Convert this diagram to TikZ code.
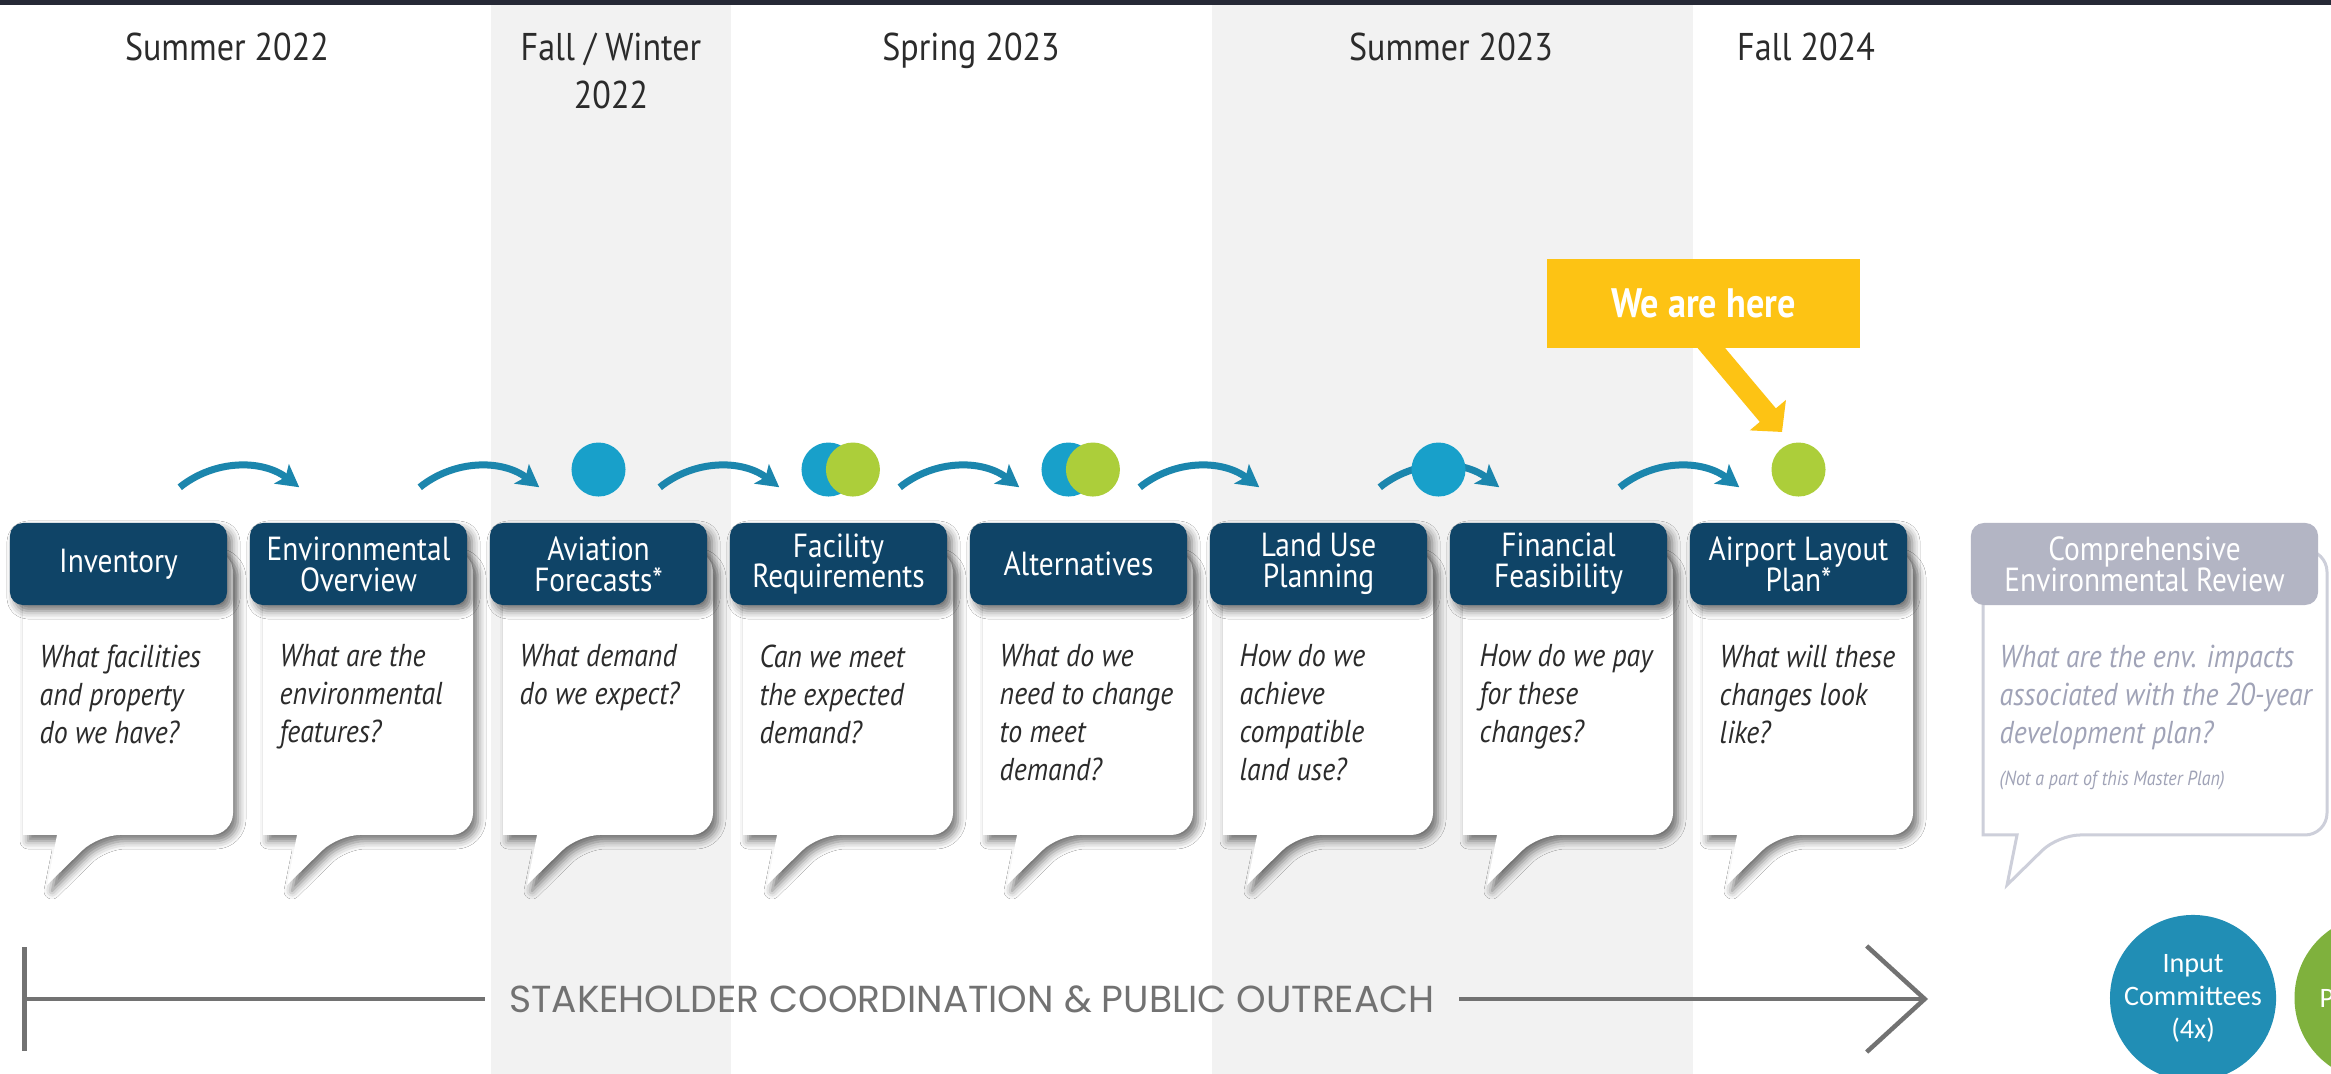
\documentclass[tikz,border=0pt]{standalone}
\usepackage{fontspec}
\setmainfont{PT Sans}[FakeStretch=0.88]
\newfontfamily\carlito{Carlito}
\newfontfamily\poppins{Poppins}
\usepackage{tikz}
\usetikzlibrary{positioning, calc, shadows.blur, arrows.meta}
\definecolor{PlanBar}{HTML}{262936}
\definecolor{PlanBand}{HTML}{F2F2F2}
\definecolor{PlanNavy}{HTML}{0F4467}
\definecolor{PlanTeal}{HTML}{1B86AD}
\definecolor{PlanBlue}{HTML}{18A0CA}
\definecolor{PlanLime}{HTML}{ACCE3A}
\definecolor{PlanGold}{HTML}{FDC314}
\definecolor{PlanGray}{HTML}{727272}
\definecolor{PlanInk}{HTML}{2B2B2B}
\definecolor{PlanMist}{HTML}{B3B5C4}
\definecolor{PlanHaze}{HTML}{A0A3B7}
\definecolor{PlanRule}{HTML}{CDCFDA}
\definecolor{CommBlue}{HTML}{218EB5}
\definecolor{CommGreen}{HTML}{7FB13D}

\begin{document}
\begin{tikzpicture}[x=0.01cm, y=-0.01cm,
    softshade/.style={blur shadow={shadow xshift=0.05cm, shadow yshift=-0.06cm,
      shadow blur radius=0.08cm, shadow opacity=55}},
    hdrbox/.style={fill=PlanNavy, rounded corners=0.13cm, minimum width=2.17cm, minimum height=0.82cm,
      inner sep=0, text=white, align=center, font=\fontsize{9.5}{8.8}\selectfont, softshade},
    reviewhdr/.style={fill=PlanMist, rounded corners=0.13cm, minimum width=3.47cm, minimum height=0.82cm,
      inner sep=0, text=white, align=center, font=\fontsize{9.5}{8.8}\selectfont},
    question/.style={anchor=north west, inner sep=0, align=left, text=PlanInk,
      font=\itshape\fontsize{9}{10.8}\selectfont},
    season/.style={anchor=north, inner sep=0, align=center, text=PlanInk,
      font=\fontsize{11}{13.7}\selectfont},
    dot/.style={circle, minimum size=0.54cm, inner sep=0},
    stepflow/.style={PlanTeal, line width=0.07cm, -{Stealth[length=0.22cm, width=0.24cm, inset=0.05cm]}},
    outline/.style={PlanGray, line width=0.045cm},
    committee/.style={circle, minimum size=1.66cm, inner sep=0, text=white, align=center,
      font=\carlito\fontsize{8}{9.4}\selectfont}]
  \useasboundingbox (0,0) rectangle (2331,1074);
  \fill[white] (0,0) rectangle (2331,1074);
  \fill[PlanBand] (491,5) rectangle (731,1074);
  \fill[PlanBand] (1212,5) rectangle (1693,1074);
  \fill[PlanBar] (0,0) rectangle (2331,5);

  \node[season] (sum22) at (227,32) {Summer 2022};
  \node[season] (fall22) at (611,32) {Fall / Winter\\2022};
  \node[season] (spr23) at (971,32) {Spring 2023};
  \node[season] (sum23) at (1451,32) {Summer 2023};
  \node[season] (fall24) at (1806,32) {Fall 2024};

  \foreach \c/\hdr/\ques in {
    1/{Inventory}/{What facilities\\and property\\do we have?},
    2/{Environmental\\Overview}/{What are the\\environmental\\features?},
    3/{Aviation\\Forecasts*}/{What demand\\do we expect?},
    4/{Facility\\Requirements}/{Can we meet\\the expected\\demand?},
    5/{Alternatives}/{What do we\\need to change\\to meet\\demand?},
    6/{Land Use\\Planning}/{How do we\\achieve\\compatible\\land use?},
    7/{Financial\\Feasibility}/{How do we pay\\for these\\changes?},
    8/{Airport Layout\\Plan*}/{What will these\\changes look\\like?}}{
    \pgfmathsetmacro{\xl}{23+(\c-1)*240}
    \fill[white, softshade] (\xl+100,550) [rounded corners=0.22cm] -- (\xl+210,550) -- (\xl+210,835)
      -- (\xl+75,835) [sharp corners] -- (\xl+24,885) -- (\xl+34,835)
      -- (\xl,835) [rounded corners=0.22cm] -- (\xl,550) -- cycle;
    \node[hdrbox] (hdr\c) at (\xl+95.5,564) {\hdr};
    \node[question] (ques\c) at (\xl+16,644) {\ques};
  }

  \foreach \c in {1,...,7}{
    \pgfmathtruncatemacro{\n}{\c+1}
    \draw[stepflow] ([shift={(-48,-35)}]hdr\c.north east) .. controls +(35,-28) and +(-37,-28)
      .. ([shift={(50,-35)}]hdr\n.north west);
  }

  \node[dot, fill=PlanBlue, above=0.25cm of hdr3] (dot3) {};
  \node[dot, fill=PlanBlue, above=0.25cm of hdr4, xshift=-0.1cm] (dot4a) {};
  \node[dot, fill=PlanLime, right=-0.31cm of dot4a] (dot4b) {};
  \node[dot, fill=PlanBlue, above=0.25cm of hdr5, xshift=-0.1cm] (dot5a) {};
  \node[dot, fill=PlanLime, right=-0.31cm of dot5a] (dot5b) {};
  \coordinate (mid67) at ($(hdr6.north)!0.5!(hdr7.north)$);
  \node[dot, fill=PlanBlue, above=0.25cm of mid67] (dot67) {};
  \node[dot, fill=PlanLime, above=0.25cm of hdr8] (dot8) {};

  \node[fill=PlanGold, minimum width=3.13cm, minimum height=0.89cm, inner sep=0, text=white,
    font=\bfseries\fontsize{11.7}{14}\selectfont] (herebox) at (1703.5,303.5) {We are here};
  \coordinate (heretip) at (1782,432);
  \draw[PlanGold, line width=0.21cm, -{Triangle[length=0.22cm, width=0.46cm]}]
    ([yshift=0.1cm]herebox.south) -- (heretip);

  \filldraw[PlanRule, fill=white, line width=0.03cm] (2083,550) [rounded corners=0.22cm] -- (2327,550)
    -- (2327,835) -- (2058,835) [sharp corners] -- (2007,885) -- (2017,835)
    -- (1983,835) [rounded corners=0.22cm] -- (1983,550) -- cycle;
  \node[reviewhdr] (hdr9) at (2144.5,564) {Comprehensive\\Environmental Review};
  \node[question, text=PlanHaze] (ques9) at (1999,644)
    {What are the env. impacts\\associated with the 20-year\\development plan?};
  \node[question, text=PlanHaze, font=\itshape\fontsize{5.8}{7}\selectfont] (note9)
    at ([yshift=-0.2cm]ques9.south west) {(Not a part of this Master Plan)};

  \coordinate (outL) at (22,999);
  \node[font=\poppins\fontsize{10.7}{12}\selectfont, text=PlanGray, inner xsep=0.24cm, inner ysep=0]
    (outreach) at (972,999) {STAKEHOLDER COORDINATION \& PUBLIC OUTREACH};
  \coordinate (outR) at (1928,999);
  \draw[outline, {Bar[width=1.03cm]}-] (outL) -- (outreach.west);
  \draw[outline, -{Straight Barb[length=0.58cm, width=1.06cm]}] (outreach.east) -- (outR);

  \node[committee, fill=CommBlue] (inputcomm) at (2193,998) {Input\\Committees\\(4x)};
  \node[committee, fill=CommGreen, right=0.17cm of inputcomm] (pubcomm) {};
  \node[anchor=west, inner sep=0, text=white, font=\carlito\fontsize{8}{9.4}\selectfont]
    (pubtext) at (2319,998) {P};
\end{tikzpicture}
\end{document}
